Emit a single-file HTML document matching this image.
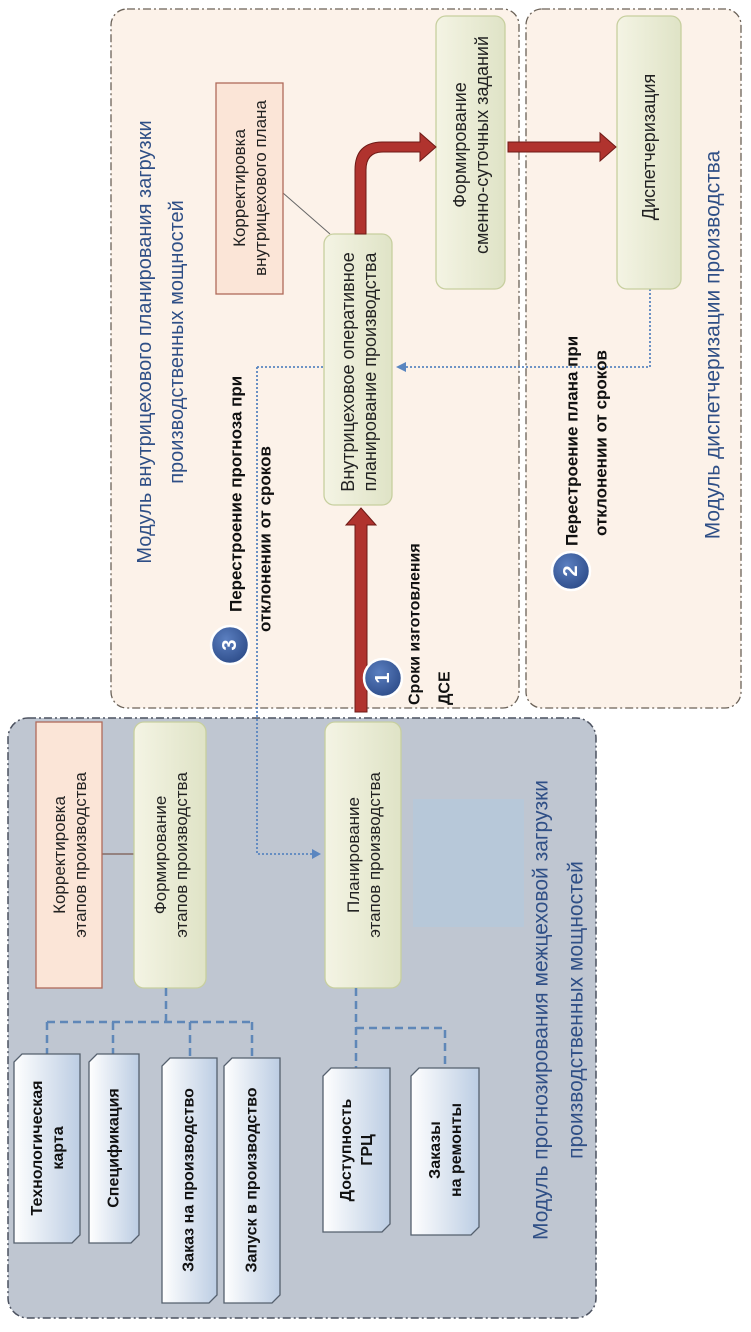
<!DOCTYPE html>
<html><head><meta charset="utf-8"><style>
html,body{margin:0;padding:0;background:#fff;}
svg{display:block;font-family:"Liberation Sans",sans-serif;}
</style></head><body>
<svg width="751" height="1332" viewBox="0 0 751 1332" xmlns="http://www.w3.org/2000/svg">
<defs>
<linearGradient id="g" x1="0" y1="0" x2="1" y2="0"><stop offset="0" stop-color="#f4f4e4"/><stop offset="1" stop-color="#dfe3c6"/></linearGradient>
<linearGradient id="b" x1="0" y1="0" x2="1" y2="0"><stop offset="0" stop-color="#ffffff"/><stop offset="1" stop-color="#bccde3"/></linearGradient>
<radialGradient id="c" cx="0.4" cy="0.35" r="0.7"><stop offset="0" stop-color="#5b7fc0"/><stop offset="1" stop-color="#2c4b88"/></radialGradient>
</defs>
<rect x="111" y="9" width="408" height="699" rx="16" fill="#fcf2e9" stroke="#6b6258" stroke-width="1.3" stroke-dasharray="8 3 2 3"/>
<rect x="526" y="9" width="215" height="699" rx="16" fill="#fcf2e9" stroke="#6b6258" stroke-width="1.3" stroke-dasharray="8 3 2 3"/>
<rect x="8" y="718" width="588" height="600" rx="20" fill="#bfc6d1" stroke="#4c5260" stroke-width="1.5" stroke-dasharray="8 3 2 3"/>

<line x1="102" y1="854" x2="134" y2="854" stroke="#7a5a50" stroke-width="1.2"/>
<rect x="36" y="722" width="66" height="266" fill="#fbe5d7" stroke="#b06a5a" stroke-width="1.3"/>
<rect x="134" y="722" width="72" height="266" rx="10" fill="url(#g)" stroke="#c7cf9f" stroke-width="1.3"/>
<rect x="325" y="722" width="76" height="266" rx="10" fill="url(#g)" stroke="#c7cf9f" stroke-width="1.3"/>
<rect x="413" y="799" width="111" height="128" fill="#b7c8d9"/>

<g stroke="#5f87b8" stroke-width="2.5" stroke-dasharray="8 5" fill="none">
<path d="M166 988 V1022 M47 1022 H252 M47 1022 V1054 M113 1022 V1054 M190 1022 V1058 M252 1022 V1058"/>
<path d="M356 988 V1068 M356 1028 H445 V1068"/>
</g>
<g stroke="#55606e" stroke-width="1.3" fill="url(#b)">
<polygon points="22,1054 80,1054 80,1235 72,1243 14,1243 14,1062"/>
<polygon points="97,1054 139,1054 139,1235 131,1243 89,1243 89,1062"/>
<polygon points="170,1058 217,1058 217,1295 209,1303 162,1303 162,1066"/>
<polygon points="232,1058 280,1058 280,1295 272,1303 224,1303 224,1066"/>
<polygon points="331,1068 390,1068 390,1224 382,1232 323,1232 323,1076"/>
<polygon points="419,1068 479,1068 479,1227 471,1235 411,1235 411,1076"/>
</g>

<g stroke="#5a86c0" stroke-width="1.8" stroke-dasharray="2 2" fill="none">
<path d="M257 367 V854 H316"/>
<path d="M257 367 H324"/>
<path d="M650 289 V367 H404"/>
</g>
<polygon points="321,854 312,849 312,859" fill="#5a86c0"/>
<polygon points="396,367 406,362 406,372" fill="#5a86c0"/>

<line x1="283" y1="193" x2="330" y2="234" stroke="#666" stroke-width="1"/>
<rect x="216" y="83" width="67" height="211" fill="#fbe5d7" stroke="#b06a5a" stroke-width="1.3"/>
<rect x="324" y="234" width="68" height="271" rx="10" fill="url(#g)" stroke="#c7cf9f" stroke-width="1.3"/>
<rect x="436" y="16" width="69" height="273" rx="10" fill="url(#g)" stroke="#c7cf9f" stroke-width="1.3"/>
<rect x="617" y="16" width="64" height="273" rx="10" fill="url(#g)" stroke="#c7cf9f" stroke-width="1.3"/>

<g fill="#b0332e" stroke="#6e1a16" stroke-width="1">
<path d="M355 234 V170 Q355 142 383 142 H420 V133 L436 147 L420 161 V152 H383 Q366 152 366 170 V234 Z"/>
<path d="M508 142 H600 V133 L616 147 L600 161 V152 H508 Z"/>
<path d="M355 712 V525 H346 L361 508 L376 525 H367 V712 Z"/>
</g>

<g stroke="#fff" stroke-width="2.5" fill="url(#c)">
<circle cx="230" cy="645" r="19"/>
<circle cx="383" cy="678" r="19"/>
<circle cx="571" cy="571" r="19"/>
</g>
<g fill="#fff" font-size="20" font-weight="bold" text-anchor="middle" dominant-baseline="central">
<text transform="translate(230,645) rotate(-90)">3</text>
<text transform="translate(383,678) rotate(-90)">1</text>
<text transform="translate(571,571) rotate(-90)">2</text>
</g>

<g fill="#222" font-size="17" text-anchor="middle" dominant-baseline="central">
<text transform="translate(69,855) rotate(-90)"><tspan x="0" dy="-10">Корректировка</tspan><tspan x="0" dy="21">этапов производства</tspan></text>
<text transform="translate(170,855) rotate(-90)"><tspan x="0" dy="-10">Формирование</tspan><tspan x="0" dy="21">этапов производства</tspan></text>
<text transform="translate(363,855) rotate(-90)"><tspan x="0" dy="-10">Планирование</tspan><tspan x="0" dy="21">этапов производства</tspan></text>
<text transform="translate(249,188) rotate(-90)"><tspan x="0" dy="-10">Корректировка</tspan><tspan x="0" dy="21">внутрицехового плана</tspan></text>
</g>
<g fill="#222" font-size="18" text-anchor="middle" dominant-baseline="central">
<text transform="translate(358,372) rotate(-90)"><tspan x="0" dy="-10">Внутрицеховое оперативное</tspan><tspan x="0" dy="22">планирование  производства</tspan></text>
<text transform="translate(470,145) rotate(-90)"><tspan x="0" dy="-10">Формирование</tspan><tspan x="0" dy="22">сменно-суточных заданий</tspan></text>
<text transform="translate(649,147) rotate(-90)">Диспетчеризация</text>
</g>
<g fill="#111" font-size="16" font-weight="bold" text-anchor="middle" dominant-baseline="central">
<text transform="translate(47,1148) rotate(-90)"><tspan x="0" dy="-10">Технологическая</tspan><tspan x="0" dy="21">карта</tspan></text>
<text transform="translate(114,1148) rotate(-90)">Спецификация</text>
<text transform="translate(189,1180) rotate(-90)">Заказ на производство</text>
<text transform="translate(252,1180) rotate(-90)">Запуск в производство</text>
<text transform="translate(356,1150) rotate(-90)"><tspan x="0" dy="-10">Доступность</tspan><tspan x="0" dy="21">ГРЦ</tspan></text>
<text transform="translate(445,1150) rotate(-90)"><tspan x="0" dy="-10">Заказы</tspan><tspan x="0" dy="21">на ремонты</tspan></text>
</g>
<g fill="#111" font-size="17" font-weight="bold" dominant-baseline="central">
<text transform="translate(236,612) rotate(-90)">Перестроение  прогноза при</text>
<text transform="translate(265,632) rotate(-90)">отклонении от сроков</text>
<text transform="translate(572,546) rotate(-90)">Перестроение  плана при</text>
<text transform="translate(601,536) rotate(-90)">отклонении от сроков</text>
</g>
<g fill="#111" font-size="16" font-weight="bold" dominant-baseline="central">
<text transform="translate(415,705) rotate(-90)">Сроки изготовления</text>
<text transform="translate(445,705) rotate(-90)">ДСЕ</text>
</g>
<g fill="#2f4f86" font-size="20" text-anchor="middle" dominant-baseline="central">
<text transform="translate(145,342) rotate(-90)">Модуль внутрицехового планирования  загрузки</text>
<text transform="translate(177,342) rotate(-90)">производственных мощностей</text>
<text transform="translate(713,345) rotate(-90)" font-size="21">Модуль диспетчеризации производства</text>
<text transform="translate(541,1010) rotate(-90)" font-size="21">Модуль прогнозирования межцеховой загрузки</text>
<text transform="translate(576,1010) rotate(-90)" font-size="21">производственных мощностей</text>
</g>
</svg>
</body></html>
